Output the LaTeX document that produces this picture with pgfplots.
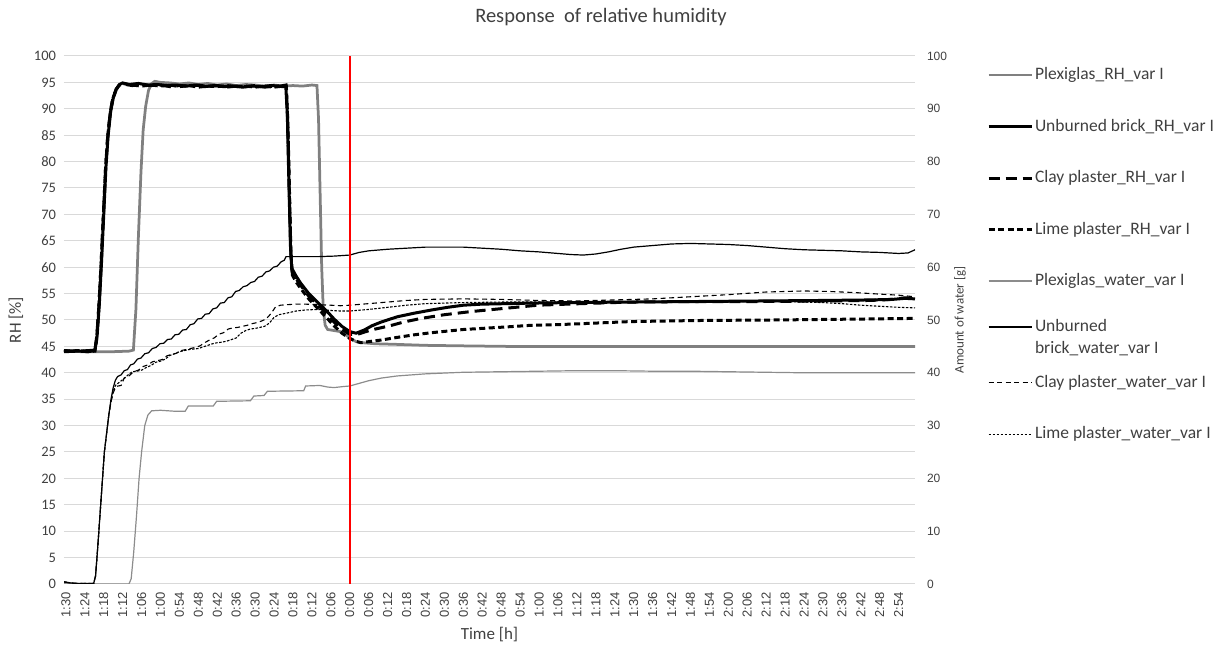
\documentclass[border=0pt]{standalone}
\usepackage{fontspec}
\setmainfont{Carlito}
\newfontfamily\arialf{Liberation Sans}
\usepackage{pgfplots}
\pgfplotsset{compat=1.18}

\definecolor{gridgray}{RGB}{217,217,217}
\definecolor{plexrh}{RGB}{128,128,128}
\definecolor{plexw}{RGB}{140,140,140}
\definecolor{txtgray}{RGB}{64,64,64}
\definecolor{redline}{RGB}{255,0,0}

\pgfplotsset{
  common/.style={
    at={(64pt,64pt)}, anchor=south west, scale only axis,
    width=851pt, height=528pt,
    xmin=-90.6, xmax=179.2, ymin=0, ymax=100,
    axis line style={draw=none}, major tick length=0pt,
    /pgf/number format/assume math mode=true,
  },
  legend image code/.code={\draw[#1] (0pt,4.5pt) -- (43pt,4.5pt);},
}

\begin{document}
\begin{tikzpicture}
\path[use as bounding box] (0pt,0pt) rectangle (1216pt,648pt);

% RH, left axis
\begin{axis}[common,
  ytick={0,5,...,100}, ymajorgrids, grid style={gridgray, line width=1pt},
  yticklabel style={font=\fontsize{14.5}{17}\selectfont, text=txtgray, anchor=east, inner xsep=8pt, outer sep=0pt},
  xtick={-90,-84,...,174},
  xticklabels={1:30,1:24,1:18,1:12,1:06,1:00,0:54,0:48,0:42,0:36,0:30,0:24,0:18,0:12,0:06,0:00,0:06,0:12,0:18,0:24,0:30,0:36,0:42,0:48,0:54,1:00,1:06,1:12,1:18,1:24,1:30,1:36,1:42,1:48,1:54,2:00,2:06,2:12,2:18,2:24,2:30,2:36,2:42,2:48,2:54},
  xticklabel style={rotate=90, anchor=east, inner xsep=8pt, outer sep=0pt, font=\arialf\fontsize{13}{15}\selectfont, text=txtgray},
  xlabel={Time [h]},
  xlabel style={at={(axis description cs:0.5,-0.0966)}, anchor=center, font=\fontsize{17}{20}\selectfont, text=txtgray},
  ylabel={RH [\%]},
  ylabel style={at={(axis description cs:-0.0564,0.5)}, anchor=center, font=\fontsize{17}{20}\selectfont, text=txtgray},
]
% Plexiglas_RH
\addplot[plexrh, line width=2.75pt] coordinates {
(-90.6,44.1) (-85,44.0) (-80,44.0) (-75,44.0) (-70,44.1) (-68.6,44.3) (-67.8,52) (-67,66) (-66.2,78) (-65.5,86) (-64.7,90.5) (-63.8,93.5) (-62.8,94.8) (-61.8,95.2) (-60,95) (-57,94.9) (-54,94.7) (-51,94.9) (-48,94.6) (-45,94.8) (-42,94.5) (-39,94.7) (-36,94.4) (-33,94.6) (-30,94.5) (-27,94.3) (-24,94.5) (-21,94.3) (-18,94.4) (-15,94.3) (-12,94.5) (-10.4,94.4) (-9.9,88) (-9.4,74) (-8.9,60) (-8.4,52) (-7.8,49) (-7,48.2) (-5,48) (-3,47.8) (-1.5,47.3) (0,46.6) (2,45.9) (4,45.7) (8,45.5) (14,45.4) (24,45.2) (36,45.1) (50,45) (80,45) (120,45) (160,45) (179.2,45)};
% Unburned brick_RH
\addplot[black, line width=3pt] coordinates {
(-90.6,44.2) (-86,44.1) (-83,44.2) (-80.8,44.3) (-80.1,47) (-79.4,53) (-78.7,61) (-78,70) (-77.3,79) (-76.6,85) (-75.8,89.5) (-75,92) (-74,93.7) (-73,94.6) (-72,94.9) (-70,94.6) (-67,94.8) (-64,94.5) (-61,94.6) (-58,94.4) (-55,94.5) (-52,94.3) (-49,94.5) (-46,94.2) (-43,94.4) (-40,94.2) (-37,94.3) (-34,94.1) (-31,94.3) (-28,94.2) (-25,94.4) (-22,94.3) (-20.3,94.5) (-19.8,89) (-19.3,76) (-18.8,64) (-18.4,59.8) (-17,58.3) (-15.6,57) (-13,55) (-10.3,53.4) (-7,51.5) (-5,50.2) (-2.5,48.8) (0,47.8) (2,47.5) (4.6,48.1) (7,48.9) (9.9,49.6) (15,50.6) (20.5,51.3) (26,51.9) (31,52.4) (36,52.8) (41.7,53) (50,53.1) (57.6,53.2) (70,53.3) (89,53.4) (110,53.5) (130,53.6) (150,53.7) (165,53.8) (172,53.9) (176,54.1) (179.2,54)};
% Clay plaster_RH
\addplot[black, line width=3pt, dash pattern=on 11pt off 6pt] coordinates {
(-90.6,44.0) (-86,44.1) (-83,44.0) (-80.8,44.2) (-80.2,47) (-79.5,53) (-78.8,61) (-78.1,70) (-77.4,79) (-76.7,85) (-75.9,89.5) (-75.1,92) (-74.1,93.7) (-73.1,94.5) (-72,94.7) (-69,94.4) (-66,94.6) (-63,94.4) (-60,94.5) (-57,94.2) (-54,94.4) (-51,94.3) (-48,94.5) (-45,94.2) (-42,94.4) (-39,94.1) (-36,94.3) (-33,94.2) (-30,94.4) (-27,94.1) (-24,94.3) (-21,94.2) (-20.2,94.4) (-19.7,88) (-19.2,75) (-18.7,63) (-18.3,59) (-17,57.8) (-15.6,56.6) (-13,54.5) (-10.3,53) (-7,51) (-5,49.6) (-2.5,48.2) (0,47.3) (2.5,47.3) (6.7,48.1) (12.7,48.9) (17,49.6) (22.6,50.3) (30,51) (38.5,51.6) (49,52.2) (59.6,52.8) (73.5,53.1) (89,53.4) (110,53.5) (130,53.5) (150,53.6) (165,53.7) (172,53.9) (176,54.2) (179.2,54.1)};
% Lime plaster_RH
\addplot[black, line width=3pt, dash pattern=on 6pt off 3.5pt] coordinates {
(-90.6,44.1) (-86,44.2) (-83,44.0) (-80.8,44.1) (-80.3,46) (-79.6,52) (-78.9,60) (-78.2,69) (-77.5,78) (-76.8,84.5) (-76,89) (-75.2,91.8) (-74.2,93.5) (-73.2,94.4) (-72,94.8) (-69,94.5) (-66,94.3) (-63,94.5) (-60,94.3) (-57,94.5) (-54,94.2) (-51,94.4) (-48,94.1) (-45,94.3) (-42,94.2) (-39,94.4) (-36,94.2) (-33,94.3) (-30,94.1) (-27,94.3) (-24,94.1) (-21,94.3) (-20.1,94.2) (-19.6,87) (-19.1,74) (-18.6,62) (-18.2,58.5) (-17,57.2) (-15.6,56) (-13,54) (-10.3,52.3) (-7,50.2) (-5,48.9) (-2.5,47.5) (0,46.5) (1.8,46) (3.5,45.7) (6,45.9) (9.9,46.2) (15,46.7) (20.5,47.2) (26,47.6) (31,47.9) (36,48.2) (41.7,48.4) (50,48.7) (57.6,49) (65,49.1) (73.5,49.3) (89,49.7) (110,49.9) (134,50) (150,50.1) (165,50.2) (179.2,50.3)};
\end{axis}

% water, right axis
\begin{axis}[common,
  axis x line=none, axis y line*=right,
  ytick={0,10,...,100},
  yticklabel style={font=\arialf\fontsize{12}{14}\selectfont, text=txtgray, anchor=west, inner xsep=12pt, outer sep=0pt},
  ylabel={Amount of water [g]},
  ylabel style={at={(axis description cs:1.0529,0.5)}, anchor=center, font=\fontsize{13}{15}\selectfont, text=txtgray},
  legend style={at={(axis description cs:1.0846,0.980)}, anchor=north west, draw=none, fill=none,
    inner sep=0pt, outer sep=0pt, row sep=34pt, column sep=2pt,
    font=\fontsize{17.5}{21}\selectfont, text=txtgray, cells={anchor=base west},
    nodes={inner sep=0pt, outer sep=0pt, text height=13pt, text depth=4.5pt}},
]
\addlegendimage{plexrh, line width=2.75pt}
\addlegendentry{Plexiglas\_RH\_var I}
\addlegendimage{black, line width=3pt}
\addlegendentry{Unburned brick\_RH\_var I}
\addlegendimage{black, line width=3pt, dash pattern=on 11pt off 6pt}
\addlegendentry{Clay plaster\_RH\_var I}
\addlegendimage{black, line width=3pt, dash pattern=on 6pt off 3.5pt}
\addlegendentry{Lime plaster\_RH\_var I}
% Plexiglas_water
\addplot[plexw, line width=1.2pt] coordinates {
(-90.6,0.1) (-80,0) (-70,0) (-69.3,1) (-68.5,6) (-67.6,13) (-66.8,20) (-66,25) (-65,30) (-64,32) (-62.8,32.8) (-60,32.9) (-55,32.7) (-52.2,32.7) (-51.2,33.7) (-43.3,33.7) (-42.2,34.6) (-31.5,34.7) (-30.4,35.6) (-27.2,35.7) (-26.1,36.5) (-14.6,36.6) (-14,37.5) (-9.5,37.6) (-7,37.3) (-5,37.2) (-2,37.4) (0,37.5) (3,38) (6,38.5) (10,39) (15,39.4) (24,39.8) (36,40.1) (48,40.2) (60,40.3) (72,40.4) (84,40.4) (96,40.3) (108,40.3) (120,40.2) (132,40.1) (144,40) (156,40) (168,40) (179.2,40)};
\addlegendentry{Plexiglas\_water\_var I}
% Unburned brick_water
\addplot[black, line width=1.2pt] coordinates {
(-90.6,0.4) (-88.5,0.2) (-86,0.1) (-81.2,0.1) (-80.6,1.5) (-79.9,7) (-79.2,13) (-78.5,19) (-77.8,25) (-77.1,28.5) (-76.4,32) (-75.7,35) (-75,37.2) (-74.3,38.6) (-73.6,39.3) (-72.5,39.6) (-71.5,40.4) (-70.5,40.6) (-69.5,41.5) (-68.5,41.7) (-67.3,42.6) (-66.2,42.8) (-65,43.6) (-63.8,43.8) (-62.6,44.6) (-61.4,44.8) (-60.2,45.5) (-59,45.6) (-57.8,46.3) (-56.6,46.4) (-55.4,47.2) (-54.2,47.3) (-53,48.1) (-51.8,48.2) (-50.6,49.1) (-49.4,49.3) (-48.2,50.2) (-47,50.3) (-45.8,51.1) (-44.6,51.2) (-43.4,52.1) (-42.2,52.3) (-41,53.2) (-39.8,53.3) (-38.6,54.2) (-37.4,54.4) (-36.2,55.4) (-35,55.6) (-33.8,56.3) (-32.6,56.5) (-31.4,57.1) (-30.2,57.3) (-29,58.1) (-27.8,58.3) (-26.6,59.1) (-25.4,59.3) (-24.2,60) (-23,60.2) (-21.8,61) (-20.8,61.3) (-20.2,62) (-15,62) (-10,62) (-5,62.1) (0,62.3) (3,62.8) (6,63.1) (12,63.4) (18,63.6) (24,63.8) (30,63.8) (36,63.8) (42,63.6) (48,63.4) (54,63.1) (60,62.9) (66,62.6) (70,62.4) (74,62.3) (78,62.5) (82,62.9) (86,63.4) (90,63.8) (96,64.1) (102,64.4) (108,64.5) (114,64.4) (120,64.3) (126,64.1) (132,63.8) (138,63.5) (144,63.3) (150,63.2) (156,63.1) (162,62.9) (168,62.8) (174,62.6) (177,62.7) (179.2,63.3)};
\addlegendentry[text height=7.5pt, text depth=8.5pt]{\vtop{\baselineskip=22pt\hbox{Unburned}\hbox{brick\_water\_var I}}}
% Clay plaster_water
\addplot[black, line width=1.1pt, dash pattern=on 5pt off 3.5pt] coordinates {
(-90.6,0.4) (-88.5,0.2) (-86,0.1) (-81.2,0.1) (-80.6,1.5) (-79.9,7) (-79.2,13) (-78.5,19) (-77.8,25) (-77.1,28.5) (-76.4,32) (-75.7,34.5) (-75,36.2) (-74.3,37.2) (-73.5,37.5) (-72.5,37.6) (-71.5,39) (-70,39.4) (-68.6,40.2) (-67,40.5) (-65.5,41.2) (-64,41.5) (-62.5,42.1) (-61,42.3) (-59.5,42.5) (-58,43.2) (-56.5,43.5) (-55,43.7) (-53.5,44.2) (-52,44.4) (-50.5,44.6) (-49,44.8) (-47.5,45.1) (-46,45.7) (-44.5,46.2) (-43,46.6) (-41.5,47.3) (-40,47.6) (-38.5,48.3) (-37,48.5) (-35.5,48.6) (-34,48.8) (-32.5,49) (-31,49.3) (-29.5,49.5) (-28,49.8) (-26.5,50.2) (-25,51.2) (-23.5,52.5) (-22,52.8) (-20,52.9) (-17,53) (-14,53) (-10,52.9) (-6,52.8) (-3,52.7) (0,52.8) (6,53.1) (12,53.4) (18,53.7) (24,53.9) (36,54) (48,53.9) (60,53.7) (72,53.6) (84,53.8) (96,54) (108,54.4) (120,54.8) (132,55.3) (144,55.5) (152,55.4) (160,55.2) (168,54.9) (174,54.7) (179.2,54.4)};
\addlegendentry{Clay plaster\_water\_var I}
% Lime plaster_water
\addplot[black, line width=1.1pt, dash pattern=on 2.5pt off 1.5pt] coordinates {
(-90.6,0.4) (-88.5,0.2) (-86,0.1) (-81.2,0.1) (-80.6,1.5) (-79.9,7) (-79.2,13) (-78.5,19) (-77.8,25) (-77.1,28.5) (-76.4,32) (-75.7,34.5) (-75,36.5) (-74.3,37.6) (-73.5,38) (-72,38.7) (-70.5,39.5) (-69,40.2) (-67.5,40.3) (-66,40.5) (-64.5,41) (-63,41.4) (-61.5,42) (-60,42.2) (-58.5,42.6) (-57,43.3) (-55.5,43.6) (-54,44) (-52.5,44.2) (-51,44.4) (-49.5,44.5) (-48,44.6) (-46.5,44.9) (-45,45.2) (-43.5,45.5) (-42,45.7) (-40.5,45.8) (-39,46) (-37.5,46.3) (-36,46.6) (-34.5,47.5) (-33,48) (-31.5,48.3) (-30,48.4) (-28.5,48.6) (-27,48.8) (-25.5,49.4) (-24,50.5) (-22.5,51) (-20,51.3) (-17,51.7) (-14,51.9) (-10,52) (-6,51.8) (-3,51.7) (0,51.7) (6,52) (12,52.4) (18,52.8) (24,53.1) (36,53.3) (48,53.4) (60,53.4) (72,53.4) (84,53.4) (96,53.5) (108,53.5) (120,53.5) (132,53.5) (144,53.4) (150,53.3) (156,53.1) (162,52.8) (168,52.6) (174,52.4) (179.2,52.3)};
\addlegendentry{Lime plaster\_water\_var I}
% marker line at 0:00
\addplot[redline, line width=1.5pt, forget plot] coordinates {(0,0) (0,100)};
\end{axis}

\node[font=\fontsize{20.5}{24}\selectfont, text=txtgray] at (601pt,631pt) {Response\ \ of relative humidity};
\end{tikzpicture}
\end{document}
